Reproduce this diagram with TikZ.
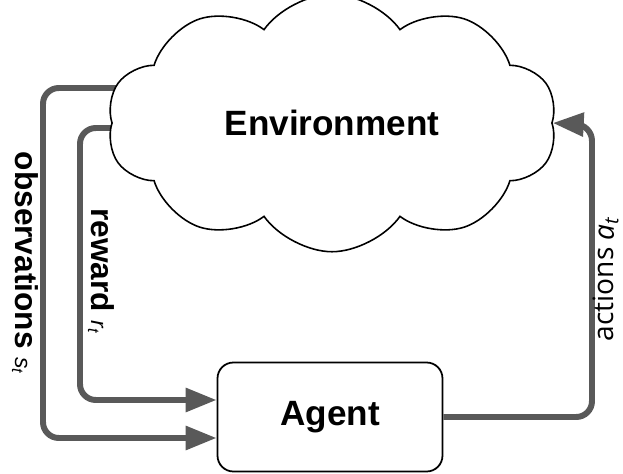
\documentclass[tikz,border=0pt]{standalone}
\usepackage{fontspec}
\setmainfont{Liberation Sans}
\newfontfamily\actfont{Open Sans}
\usetikzlibrary{shapes.symbols,arrows.meta,calc,backgrounds}
\definecolor{flowgray}{RGB}{89,89,89}

\begin{document}
\begin{tikzpicture}[x=0.02cm,y=-0.02cm,
        flow/.style={draw=flowgray,line width=3.4pt,rounded corners=9pt,-{Triangle[length=0.62cm,width=0.46cm]}},
        lbl/.style={font=\fontsize{18}{20}\selectfont\bfseries},
        big/.style={font=\fontsize{20}{24}\selectfont\bfseries}]
    \useasboundingbox (0,0) rectangle (623,474);
    \node[draw,cloud,cloud puffs=10,cloud puff arc=110,cloud ignores aspect,fill=white,line width=0.9pt,minimum width=9cm,minimum height=5.15cm,big] (env) at (332,123) {Environment};
    \node[draw,rounded corners=9pt,fill=white,line width=1pt,minimum width=4.5cm,minimum height=2.18cm,big] (agent) at (330,417) {Agent};
    % inputs of the agent
    \begin{scope}[on background layer]
        \foreach \dy / \x / \ay in {-35/43/21, 5/80/-17}{
            \draw[flow] ($(env.center)+(0,\dy)$) -| (\x,{417+\ay}) -- ($(agent.west)+(0,\ay)$);
        }
    \end{scope}
    \draw[flow] (agent.east) -| (592,125) -- (env.east);
    \node[lbl,rotate=-90] (obs) at (25,263) {observations {\normalfont\fontsize{13}{15}\selectfont\itshape s\textsubscript{t}}};
    \node[lbl,rotate=-90] (rew) at (101,271) {reward {\normalfont\fontsize{13}{15}\selectfont\itshape r\textsubscript{t}}};
    \node[rotate=90,font=\actfont\fontsize{16}{18}\selectfont] (act) at (606,279) {actions {\itshape a\textsubscript{t}}};
\end{tikzpicture}
\end{document}
